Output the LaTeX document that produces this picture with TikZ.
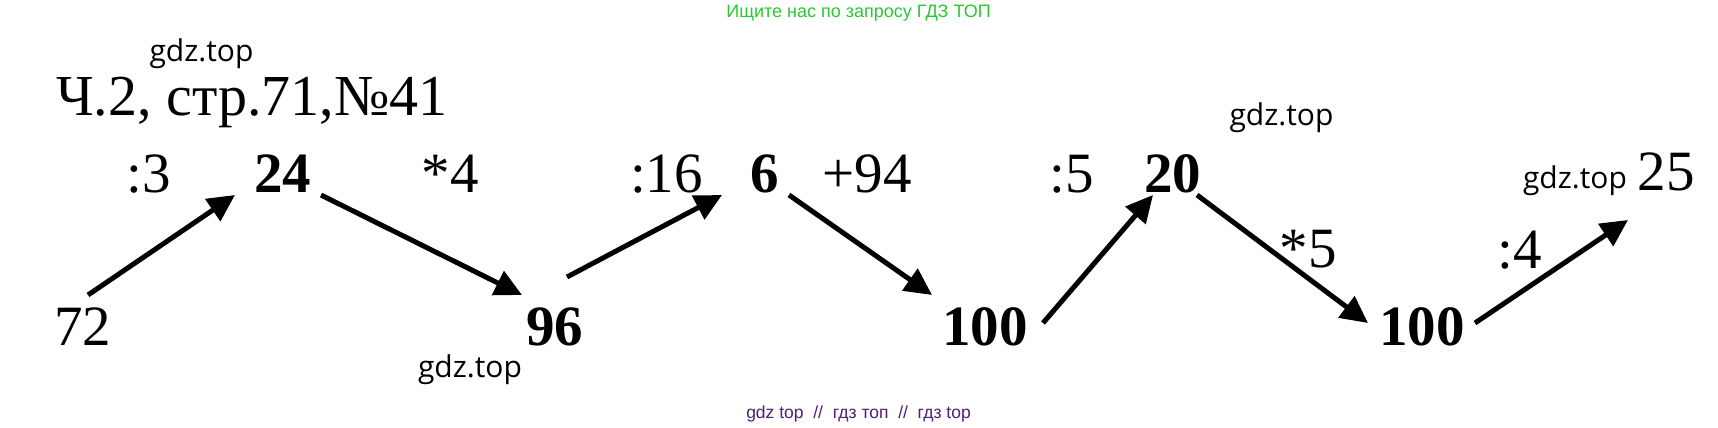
\documentclass[tikz,border=0pt]{standalone}
\usepackage{fontspec}
\usetikzlibrary{arrows.meta}
\newfontfamily\tnr{Liberation Serif}
\newfontfamily\wmfont{Open Sans}
\newfontfamily\adfont{Liberation Sans}
\definecolor{adgreen}{RGB}{40,200,50}
\definecolor{adpurple}{RGB}{80,30,120}
\tikzset{
  num/.style={inner sep=0pt, anchor=base, font=\tnr\fontsize{57}{60}\selectfont},
  bnum/.style={num, font=\tnr\bfseries\fontsize{57}{60}\selectfont},
  wm/.style={inner sep=0pt, anchor=base, font=\wmfont\fontsize{30}{32}\selectfont},
  arr/.style={line width=5pt, -{Triangle[length=27pt,width=26pt]}}
}
\begin{document}
\begin{tikzpicture}[x=1pt,y=-1pt]
\useasboundingbox (0,0) rectangle (1718,428);
% adverts
\node[inner sep=0pt, anchor=base, text=adgreen, font=\adfont\fontsize{18}{20}\selectfont] (adtop) at (858.5,18) {Ищите нас по запросу ГДЗ ТОП};
\node[inner sep=0pt, anchor=base, text=adpurple, font=\adfont\fontsize{17.5}{19}\selectfont] (adbot) at (858.5,418) {gdz top \ // \ гдз топ \ // \ гдз top};
% watermarks
\node[wm] (w1) at (201.5,62) {gdz.top};
\node[wm] (w2) at (1281.5,125) {gdz.top};
\node[wm] (w3) at (1575,188) {gdz.top};
\node[wm] (w4) at (470,377) {gdz.top};
% header
\node[inner sep=0pt, anchor=base west, font=\tnr\fontsize{58}{60}\selectfont] (title) at (56,115) {Ч.2, стр.71,№41};
% numbers
\node[num] (n72) at (82.5,345) {72};
\node[bnum] (n24) at (282.5,192) {24};
\node[bnum] (n96) at (554.5,345) {96};
\node[bnum] (n6) at (764.5,192) {6};
\node[bnum] (n100a) at (985,345) {100};
\node[bnum] (n20) at (1172.5,192) {20};
\node[bnum] (n100b) at (1422,345) {100};
\node[num] (n25) at (1666,190) {25};
% operations
\node[num] (o1) at (148.5,192) {:3};
\node[num] (o2) at (450,192) {*4};
\node[num] (o3) at (666.5,192) {:16};
\node[num] (o4) at (867,192) {+94};
\node[num] (o5) at (1071.5,192) {:5};
\node[num] (o6) at (1308,267) {*5};
\node[num] (o7) at (1520,268) {:4};
% arrow ends
\coordinate (s1) at (88,295);   \coordinate (t1) at (235,195);
\coordinate (s2) at (321,195);  \coordinate (t2) at (522,295);
\coordinate (s3) at (567,277);  \coordinate (t3) at (722,195);
\coordinate (s4) at (789,195);  \coordinate (t4) at (932,295);
\coordinate (s5) at (1043,323); \coordinate (t5) at (1153,195);
\coordinate (s6) at (1197,195); \coordinate (t6) at (1368,323);
\coordinate (s7) at (1475,323); \coordinate (t7) at (1628,220);
\draw[arr] (s1) -- (t1);
\draw[arr] (s2) -- (t2);
\draw[arr] (s3) -- (t3);
\draw[arr] (s4) -- (t4);
\draw[arr] (s5) -- (t5);
\draw[arr] (s6) -- (t6);
\draw[arr] (s7) -- (t7);
\end{tikzpicture}
\end{document}
